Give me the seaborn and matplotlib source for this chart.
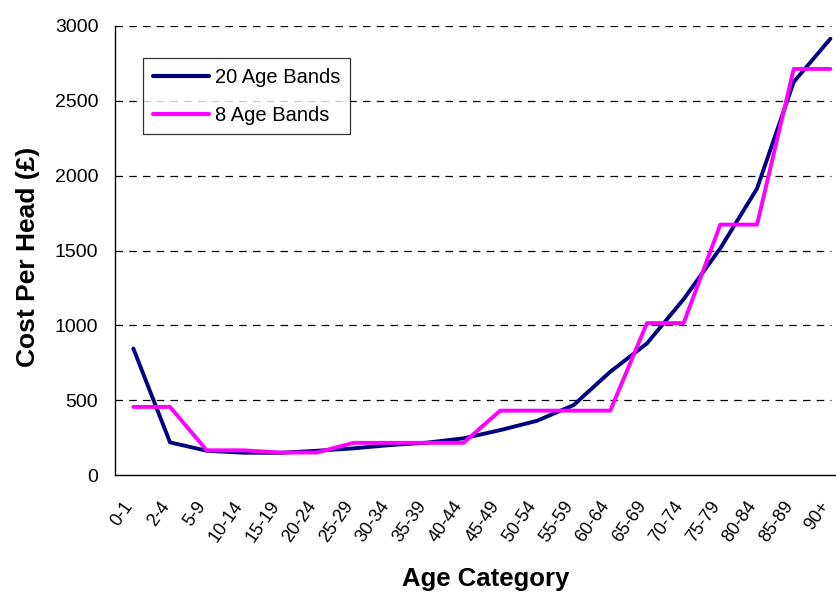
import matplotlib
matplotlib.use("Agg")
import matplotlib.pyplot as plt
import matplotlib.transforms as mtransforms
import numpy as np
import pandas as pd
import seaborn as sns

# Data
age_bands = ["0-1", "2-4", "5-9", "10-14", "15-19", "20-24", "25-29", "30-34",
             "35-39", "40-44", "45-49", "50-54", "55-59", "60-64", "65-69",
             "70-74", "75-79", "80-84", "85-89", "90+"]
cost_20_bands = [845, 218, 162, 149, 148, 162, 178, 200, 216, 245,
                 300, 362, 467, 690, 879, 1175, 1515, 1914, 2626, 2915]
cost_8_bands = [455, 455, 165, 165, 150, 150, 215, 215, 215, 215,
                430, 430, 430, 430, 1015, 1015, 1673, 1673, 2713, 2713]
y_ticks = [0, 500, 1000, 1500, 2000, 2500, 3000]

pos = np.arange(len(age_bands))
df = pd.concat([
    pd.DataFrame({"pos": pos, "cost": cost_20_bands, "series": "20 Age Bands"}),
    pd.DataFrame({"pos": pos, "cost": cost_8_bands, "series": "8 Age Bands"}),
])

sns.set_style("white")
plt.rcParams["font.family"] = ["Liberation Sans", "DejaVu Sans"]
plt.rcParams["text.color"] = "black"
plt.rcParams["xtick.color"] = "black"
plt.rcParams["ytick.color"] = "black"

fig = plt.figure(figsize=(8.37, 5.96), dpi=100)
ax = fig.add_axes([115 / 837, 1 - 475 / 596, 1 - 115 / 837, (475 - 26) / 596])

# dashed gridlines, stopping at the plot area edge
for yv in y_ticks[1:]:
    ax.hlines(yv, -0.5, 19.03, colors="black", linestyles=(0, (6, 5)), linewidth=0.9, zorder=0)

sns.lineplot(data=df, x="pos", y="cost", hue="series", sort=False,
             palette={"20 Age Bands": "#000080", "8 Age Bands": "#FF00FF"},
             linewidth=2.8, ax=ax, zorder=3)

ax.set_xlim(-0.5, 19.18)
ax.set_ylim(0, 3000)
ax.set_yticks(y_ticks)
ax.set_xticks(pos)
ax.set_xticklabels(age_bands, rotation=55, ha="right", va="center", rotation_mode="anchor")
ax.set_xticks(np.arange(-0.5, 19.5, 1), minor=True)

ax.tick_params(axis="x", which="major", length=0, labelsize=13, pad=20)
ax.tick_params(axis="x", which="minor", length=5, width=0.9, color="#555555", direction="out")
ax.tick_params(axis="y", which="major", length=10, width=0.9, direction="inout",
               labelsize=14, pad=7, color="#333333")
shift = mtransforms.ScaledTranslation(-4 / 100, 0, fig.dpi_scale_trans)
for lbl in ax.get_xticklabels():
    lbl.set_transform(lbl.get_transform() + shift)

for s in ["top", "right"]:
    ax.spines[s].set_visible(False)
for s in ["left", "bottom"]:
    ax.spines[s].set_color("black")
    ax.spines[s].set_linewidth(1.0)

ax.set_xlabel("")
ax.set_ylabel("")
fig.text(486 / 837, 1 - 579 / 596, "Age Category", fontsize=18.5, fontweight="bold",
         ha="center", va="center")
fig.text(28 / 837, 1 - 257 / 596, "Cost Per Head (£)", fontsize=19, fontweight="bold",
         ha="center", va="center", rotation=90)

leg = ax.legend(title=None, loc="upper left", bbox_to_anchor=(143 / 837, 1 - 58 / 596),
                bbox_transform=fig.transFigure, frameon=True, fancybox=False,
                edgecolor="black", fontsize=14.5, handlelength=2.8,
                borderpad=0.48, labelspacing=0.95, handletextpad=0.3, borderaxespad=0)
leg.get_frame().set_linewidth(0.9)
for h in leg.get_lines():
    h.set_linewidth(3)

fig.savefig("out.png", dpi=100)
